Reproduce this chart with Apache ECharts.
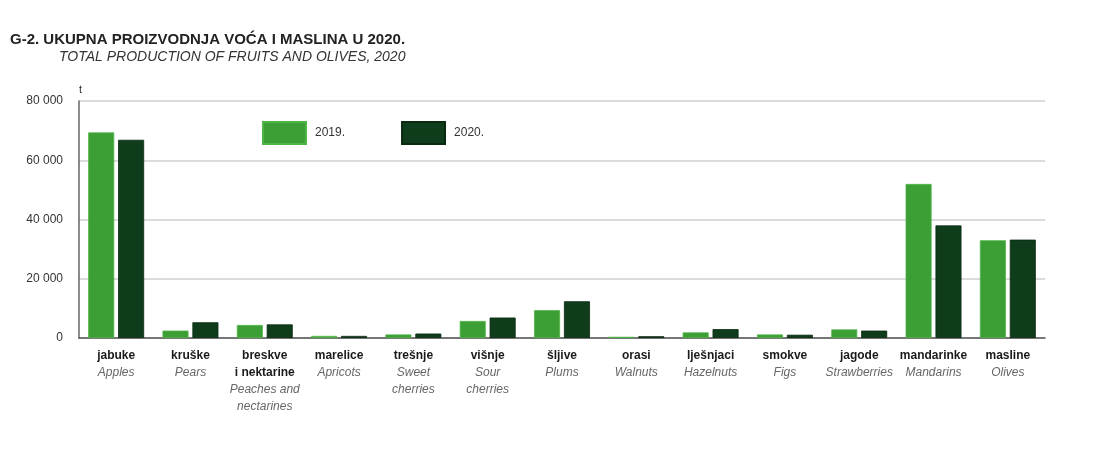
<!DOCTYPE html>
<html><head><meta charset="utf-8">
<script src="https://cdn.jsdelivr.net/npm/echarts@6/dist/echarts.min.js"></script>
<style>html,body{margin:0;padding:0;background:#fff}#c{width:1103px;height:450px}</style>
</head><body><div id="c"></div>
<script>
const categoriesHr = ['jabuke','kruške','breskve\ni nektarine','marelice','trešnje','višnje','šljive','orasi','lješnjaci','smokve','jagode','mandarinke','masline'];
const categoriesEn = ['Apples','Pears','Peaches and\nnectarines','Apricots','Sweet\ncherries','Sour\ncherries','Plums','Walnuts','Hazelnuts','Figs','Strawberries','Mandarins','Olives'];
const values2019 = [69400, 2500, 4400, 700, 1200, 5750, 9400, 400, 1900, 1200, 2900, 52000, 33000];
const values2020 = [66900, 5300, 4600, 700, 1500, 6900, 12400, 600, 3000, 1100, 2500, 38000, 33200];
const yTicks = [0, 20000, 40000, 60000, 80000];
const seriesNames = ['2019.', '2020.'];

const FONT = '"Liberation Sans Narrow", "Liberation Sans", Arial, sans-serif';
const chart = echarts.init(document.getElementById('c'));
const labels = categoriesHr.map((hr, i) => {
  const hrPart = hr.split('\n').map(s => '{hr|' + s + '}').join('\n');
  const enPart = categoriesEn[i].split('\n').map(s => '{en|' + s + '}').join('\n');
  return hrPart + '\n' + enPart;
});
chart.setOption({
  animation: false,
  title: [
    {text: 'G-2. UKUPNA PROIZVODNJA VOĆA I MASLINA U 2020.', left: 5, top: 27,
     textStyle: {fontFamily: FONT, fontWeight: 'bold', fontSize: 15, color: '#222'}},
    {text: 'TOTAL PRODUCTION OF FRUITS AND OLIVES, 2020', left: 54, top: 45,
     textStyle: {fontFamily: FONT, fontStyle: 'italic', fontWeight: 'normal', fontSize: 14, color: '#333'}}
  ],
  legend: {
    data: seriesNames, left: 262, top: 121, padding: 0, itemWidth: 43, itemHeight: 22, itemGap: 56,
    icon: 'rect',
    textStyle: {fontFamily: FONT, fontSize: 12, color: '#333', padding: [0,0,0,4]}
  },
  grid: {left: 79, right: 58, top: 101, bottom: 112, containLabel: false},
  xAxis: {
    type: 'category', data: labels,
    axisLine: {show: true, lineStyle: {color: '#555', width: 1.5}},
    axisTick: {show: false},
    axisLabel: {
      interval: 0, margin: 9, lineHeight: 17,
      rich: {
        hr: {fontFamily: FONT, fontWeight: 'bold', fontSize: 12, color: '#1a1a1a', lineHeight: 17},
        en: {fontFamily: FONT, fontStyle: 'italic', fontSize: 12, color: '#666', lineHeight: 17}
      }
    }
  },
  yAxis: {
    type: 'value', min: 0, max: 80000, interval: 20000,
    name: 't', nameGap: 6, nameLocation: 'end',
    nameTextStyle: {fontFamily: FONT, fontSize: 11, color: '#333', align: 'left', padding: [0,0,0,0]},
    axisLine: {show: true, lineStyle: {color: '#666', width: 1.5}},
    axisTick: {show: false},
    splitLine: {lineStyle: {color: '#cfcfcf', width: 1.5}},
    axisLabel: {
      margin: 16, fontFamily: FONT, fontSize: 12, color: '#333',
      formatter: v => yTicks.includes(v) ? (v === 0 ? '0' : (v/1000) + ' 000') : ''
    }
  },
  series: [
    {name: seriesNames[0], type: 'bar', data: values2019, barWidth: 26, barGap: '15%',
     itemStyle: {color: '#3c9f35', borderColor: '#4fb545', borderWidth: 0.8}},
    {name: seriesNames[1], type: 'bar', data: values2020, barWidth: 26,
     itemStyle: {color: '#0f3c1b', borderColor: '#0a2a12', borderWidth: 0.8}}
  ]
});
</script></body></html>
